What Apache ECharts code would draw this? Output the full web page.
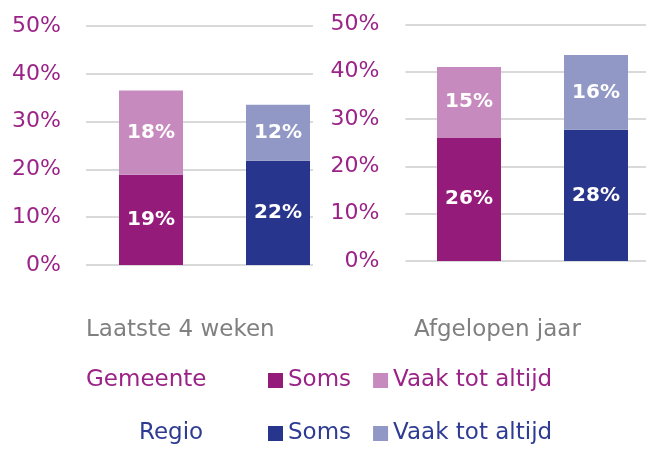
<!DOCTYPE html>
<html>
<head>
<meta charset="utf-8">
<script src="https://cdn.jsdelivr.net/npm/echarts@6/dist/echarts.min.js"></script>
<style>
html,body{margin:0;padding:0;background:#fff;}
#chart{width:646px;height:449px;}
</style>
</head>
<body>
<div id="chart"></div>
<script>
// data
var groups = ['Gemeente', 'Regio'];
var periods = ['Laatste 4 weken', 'Afgelopen jaar'];
var somsLaatste = [18.9, 21.8];
var vaakLaatste = [17.6, 11.7];
var somsJaar = [26.1, 27.7];
var vaakJaar = [14.9, 15.8];
var yMin = 0, yMax = 50, yStep = 10;

var COLOR = {
	GEM_SOMS: '#951B7B',
	GEM_VAAK: '#C78ABE',
	REG_SOMS: '#28358D',
	REG_VAAK: '#9198C6',
	GEM_TEXT: '#9B2387',
	REG_TEXT: '#2E3B93',
	GRID: '#D9D9D9',
	GREY: '#808080'
};
var FONT = 'DejaVu Sans';

// zet een waarde op de plek van de groep, de andere blijft leeg
function onlyAt(arr, idx){
	return groups.map(function(g, i){ return i === idx ? arr[idx] : '-'; });
}

function barSeries(name, values, idx, axisIdx, color){
	return {
		name: name,
		type: 'bar',
		stack: 'p' + axisIdx,
		xAxisIndex: axisIdx,
		yAxisIndex: axisIdx,
		barWidth: 64,
		itemStyle: {color: color},
		label: {
			show: true,
			position: 'inside',
			color: '#fff',
			fontFamily: FONT,
			fontWeight: 'bold',
			fontSize: 20,
			formatter: function(p){ return Math.round(p.value) + '%'; }
		},
		data: onlyAt(values, idx)
	};
}

function valueAxis(gridIdx, show, margin){
	return {
		type: 'value',
		gridIndex: gridIdx,
		min: yMin,
		max: yMax,
		interval: yStep,
		show: show,
		axisLine: {show: false},
		axisTick: {show: false},
		axisLabel: {
			formatter: '{value}%',
			color: COLOR.GEM_TEXT,
			fontFamily: FONT,
			fontSize: 22,
			margin: margin
		},
		splitLine: {lineStyle: {color: COLOR.GRID, width: 2}}
	};
}

function catAxis(gridIdx){
	return {type: 'category', gridIndex: gridIdx, data: groups, show: false};
}

function textItem(text, left, top, color){
	return {
		text: text,
		left: left,
		top: top,
		padding: 0,
		textStyle: {color: color, fontFamily: FONT, fontWeight: 'normal', fontSize: 23}
	};
}

var myChart = echarts.init(document.getElementById('chart'));
myChart.setOption({
	animation: false,
	title: [
		textItem(periods[0], 86, 319, COLOR.GREY),
		textItem(periods[1], 414, 319, COLOR.GREY),
		textItem(groups[0], 86, 369, COLOR.GEM_TEXT),
		textItem(groups[1], 139, 422, COLOR.REG_TEXT)
	],
	legend: [
		{
			left: 268, top: 369, padding: 0,
			itemWidth: 15, itemHeight: 15, itemGap: 22,
			icon: 'rect', selectedMode: false,
			textStyle: {color: COLOR.GEM_TEXT, fontFamily: FONT, fontSize: 23},
			formatter: function(n){ return n.replace('Gemeente ', ''); },
			data: ['Gemeente Soms', 'Gemeente Vaak tot altijd']
		},
		{
			left: 268, top: 422, padding: 0,
			itemWidth: 15, itemHeight: 15, itemGap: 22,
			icon: 'rect', selectedMode: false,
			textStyle: {color: COLOR.REG_TEXT, fontFamily: FONT, fontSize: 23},
			formatter: function(n){ return n.replace('Regio ', ''); },
			data: ['Regio Soms', 'Regio Vaak tot altijd']
		}
	],
	grid: [
		{left: 86, top: 26, width: 227, height: 239, outerBoundsMode: 'none'},       // raster links
		{left: 87.5, top: 26, width: 254, height: 239, outerBoundsMode: 'none'},     // staven links
		{left: 405.5, top: 24.3, width: 254, height: 236.7, outerBoundsMode: 'none'} // rechts
	],
	xAxis: [catAxis(0), catAxis(1), catAxis(2)],
	yAxis: [valueAxis(0, true, 25), valueAxis(1, false, 25), valueAxis(2, true, 26)],
	series: [
		barSeries('Gemeente Soms', somsLaatste, 0, 1, COLOR.GEM_SOMS),
		barSeries('Gemeente Vaak tot altijd', vaakLaatste, 0, 1, COLOR.GEM_VAAK),
		barSeries('Regio Soms', somsLaatste, 1, 1, COLOR.REG_SOMS),
		barSeries('Regio Vaak tot altijd', vaakLaatste, 1, 1, COLOR.REG_VAAK),
		barSeries('Gemeente Soms', somsJaar, 0, 2, COLOR.GEM_SOMS),
		barSeries('Gemeente Vaak tot altijd', vaakJaar, 0, 2, COLOR.GEM_VAAK),
		barSeries('Regio Soms', somsJaar, 1, 2, COLOR.REG_SOMS),
		barSeries('Regio Vaak tot altijd', vaakJaar, 1, 2, COLOR.REG_VAAK)
	]
});
</script>
</body>
</html>
